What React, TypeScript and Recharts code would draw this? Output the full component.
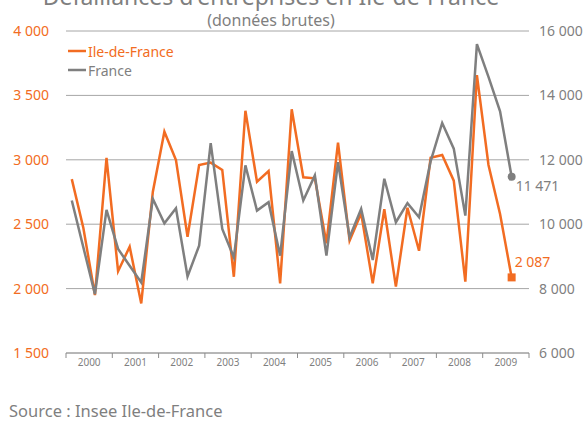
import React from 'react';
import { LineChart, Line, XAxis, YAxis, CartesianGrid } from 'recharts';

const years = ['2000', '2001', '2002', '2003', '2004', '2005', '2006', '2007', '2008', '2009'];
const quartersPerYear = 4;

const idf = [
  2850, 2470, 1950, 3015, 2135, 2325, 1885, 2750, 3218, 2998,
  2403, 2960, 2978, 2921, 2092, 3381, 2830, 2913, 2041, 3392,
  2864, 2856, 2352, 3133, 2372, 2584, 2041, 2616, 2015, 2628,
  2294, 3016, 3037, 2838, 2054, 3658, 2960, 2579, 2087,
];

const france = [
  10735, 9280, 7829, 10445, 9231, 8710, 8190, 10788, 10028, 10495,
  8377, 9333, 12520, 9854, 8969, 11826, 10424, 10682, 9022, 12271,
  10735, 11514, 9022, 11928, 9592, 10476, 8887, 11410, 10060, 10652,
  10215, 11950, 13144, 12346, 10268, 15595, 14576, 13508, 11471,
];

const leftTicks = [1500, 2000, 2500, 3000, 3500, 4000];
const rightTicks = [6000, 8000, 10000, 12000, 14000, 16000];

const ORANGE = '#F26C22';
const GREY = '#7F7F7F';
const FONT = '"Noto Sans", "Open Sans", sans-serif';

const data = idf.map((v, i) => ({
  pos: i + 0.5,
  quarter: `${years[Math.floor(i / quartersPerYear)]} T${(i % quartersPerYear) + 1}`,
  idf: v,
  france: france[i],
}));

const totalQuarters = years.length * quartersPerYear;
const xTicks: number[] = [];
for (let t = 0; t <= totalQuarters; t += 2) xTicks.push(t);

const last = data.length - 1;

const fmt = (v: number) => {
  const s = String(Math.round(v));
  return s.replace(/\B(?=(\d{3})+(?!\d))/g, ' ');
};

const XTick = (props: any) => {
  const { x, y, payload } = props;
  const v = payload.value as number;
  if (v % quartersPerYear === 0) {
    return <line x1={x} x2={x} y1={y - 5} y2={y} stroke="#8c8c8c" strokeWidth={1} />;
  }
  const yr = years[Math.floor(v / quartersPerYear)];
  return (
    <text x={x} y={y} dy="0.75em" textAnchor="middle" fontSize={10} fill={GREY} fontFamily={FONT}>
      {yr}
    </text>
  );
};

const idfDot = (p: any) => {
  if (p.index !== last) return <g key={`d-${p.index}`} />;
  return <rect key={`d-${p.index}`} x={p.cx - 4} y={p.cy - 4} width={8} height={8} fill={ORANGE} />;
};

const frDot = (p: any) => {
  if (p.index !== last) return <g key={`f-${p.index}`} />;
  return <circle key={`f-${p.index}`} cx={p.cx} cy={p.cy} r={4} fill={GREY} />;
};

const idfLabel = (p: any) => {
  if (p.index !== last) return <g key={`l-${p.index}`} />;
  return (
    <text key={`l-${p.index}`} x={p.x + 3} y={p.y - 16} dominantBaseline="central" fontSize={14} fill={ORANGE} fontFamily={FONT}>
      {fmt(p.value)}
    </text>
  );
};

const frLabel = (p: any) => {
  if (p.index !== last) return <g key={`m-${p.index}`} />;
  return (
    <text key={`m-${p.index}`} x={p.x + 4} y={p.y + 9} dominantBaseline="central" fontSize={14} fill={GREY} fontFamily={FONT}>
      {fmt(p.value)}
    </text>
  );
};

export default function App() {
  return (
    <div style={{ position: 'absolute', left: 0, top: 0, width: 583, height: 423, background: '#fff' }}>
      <LineChart width={583} height={423} data={data} margin={{ top: 31, right: 0, left: 0, bottom: 0 }}>
        <CartesianGrid yAxisId="left" horizontal vertical={false} stroke="#a6a6a6" strokeWidth={1} />
        <XAxis
          dataKey="pos"
          type="number"
          domain={[0, totalQuarters]}
          ticks={xTicks}
          interval={0}
          height={70}
          tickLine={false}
          tickSize={5}
          tickMargin={0}
          axisLine={{ stroke: '#9a9a9a' }}
          tick={<XTick />}
        />
        <YAxis
          yAxisId="left"
          domain={[1500, 4000]}
          ticks={leftTicks}
          width={66}
          axisLine={false}
          tickLine={false}
          tickSize={6}
          tickMargin={11}
          tickFormatter={fmt}
          tick={{ fill: ORANGE, fontSize: 14, fontFamily: FONT }}
        />
        <YAxis
          yAxisId="right"
          orientation="right"
          domain={[6000, 16000]}
          ticks={rightTicks}
          width={54}
          axisLine={false}
          tickLine={false}
          tickSize={6}
          tickMargin={4}
          tickFormatter={fmt}
          tick={{ fill: GREY, fontSize: 14, fontFamily: FONT, textAnchor: 'start' }}
        />
        <Line
          yAxisId="left"
          dataKey="idf"
          name="Ile-de-France"
          stroke={ORANGE}
          strokeWidth={2.5}
          dot={idfDot}
          activeDot={false}
          label={idfLabel}
          isAnimationActive={false}
        />
        <Line
          yAxisId="right"
          dataKey="france"
          name="France"
          stroke={GREY}
          strokeWidth={2.5}
          dot={frDot}
          activeDot={false}
          label={frLabel}
          isAnimationActive={false}
        />
      </LineChart>
      <svg width={583} height={423} style={{ position: 'absolute', left: 0, top: 0, pointerEvents: 'none' }}>
        <text x={271} y={5} textAnchor="middle" fontSize={23} fill={GREY} fontFamily={FONT}>
          Défaillances d'entreprises en Ile-de-France
        </text>
        <text x={271} y={26} textAnchor="middle" fontSize={16} fill={GREY} fontFamily={FONT}>
          (données brutes)
        </text>
        <line x1={68} x2={86} y1={51} y2={51} stroke={ORANGE} strokeWidth={2.5} />
        <text x={88} y={51} dominantBaseline="central" fontSize={14} fill={ORANGE} fontFamily={FONT}>
          Ile-de-France
        </text>
        <line x1={68} x2={86} y1={70} y2={70} stroke={GREY} strokeWidth={2.5} />
        <text x={88} y={70} dominantBaseline="central" fontSize={14} fill={GREY} fontFamily={FONT}>
          France
        </text>
        <text x={9} y={417} fontSize={16.5} fill={GREY} fontFamily={FONT}>
          Source : Insee Ile-de-France
        </text>
      </svg>
    </div>
  );
}
